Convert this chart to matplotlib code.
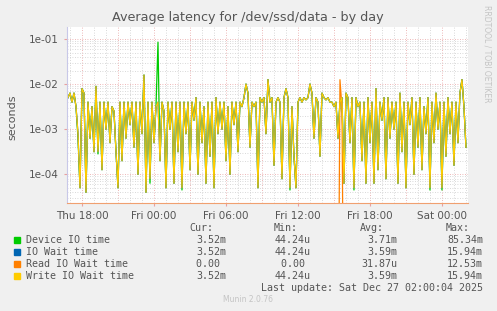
import numpy as np
import matplotlib
matplotlib.use("Agg")
import matplotlib.pyplot as plt
from matplotlib.patches import Rectangle
from matplotlib.ticker import FixedLocator, FuncFormatter

# samples every 10 minutes, hours counted from Thu 00:00
t_start = 16.833
step_h = 1 / 6

# write IO wait time, log10(seconds)
write_log10 = [
    -2.3, -2.2, -2.4, -2.2, -2.5, -3.1, -4.3, -2.1, -2.2, -4.4,
    -2.4, -3.2, -2.5, -3.5, -2.05, -3.5, -2.4, -3.9, -2.4, -3.0,
    -2.4, -3.3, -2.5, -2.6, -3.5, -4.3, -2.4, -3.7, -2.4, -3.2,
    -2.4, -2.9, -2.4, -3.4, -2.4, -4.0, -2.4, -3.1, -1.8, -4.4,
    -2.4, -4.1, -2.4, -3.3, -2.5, -2.4, -3.7, -2.4, -2.6, -4.3,
    -2.4, -3.0, -2.4, -4.2, -2.4, -3.5, -2.4, -4.3, -2.4, -3.1,
    -2.4, -3.9, -2.4, -2.8, -2.3, -4.0, -2.4, -3.3, -2.5, -4.2,
    -2.4, -3.6, -2.4, -4.3, -2.3, -3.1, -2.4, -3.0, -2.4, -3.7,
    -2.5, -4.0, -2.4, -2.9, -2.4, -3.5, -2.4, -2.5, -2.3, -2.0,
    -2.2, -3.4, -2.4, -2.5, -2.4, -4.3, -2.3, -2.4, -2.3, -3.1,
    -1.9, -2.4, -2.3, -3.8, -2.4, -2.3, -2.4, -4.1, -2.3, -2.1,
    -2.3, -4.3, -2.5, -3.6, -4.3, -2.4, -2.3, -2.4, -2.3, -2.35,
    -2.3, -2.0, -2.2, -3.2, -2.3, -2.4, -3.6, -2.2, -2.3, -2.35,
    -2.3, -2.4, -2.4, -2.5, -2.4, -3.2, -2.4, -2.3, -4.2, -2.2,
    -2.3, -3.3, -2.3, -4.3, -2.3, -2.5, -2.4, -3.7, -2.4, -4.2,
    -2.3, -3.3, -2.4, -4.2, -2.1, -3.9, -2.4, -2.8, -2.3, -4.1,
    -2.3, -3.2, -2.4, -3.0, -2.4, -4.2, -2.2, -3.5, -2.4, -4.3,
    -2.4, -2.9, -2.3, -4.0, -2.4, -3.4, -2.3, -3.9, -2.5, -3.1,
    -2.3, -4.3, -2.4, -3.3, -2.2, -3.0, -2.4, -4.3, -2.4, -3.6,
    -2.3, -3.1, -2.4, -3.8, -2.4, -3.3, -2.2, -1.9, -2.5, -3.4,
]
# IO wait is the same as write wait over the whole period
io_wait_log10 = list(write_log10)
# device IO time differs from write wait only at these samples
device_diff = {5: -3.2, 15: -3.55, 45: -1.07, 41: -4.2, 57: -4.35,
               111: -4.35, 143: -4.35, 181: -4.35, 187: -4.35}
# read IO wait (seconds), zero except these samples
read_nonzero = {136: 1.25e-2, 137: 3e-3}

ytick_vals = [1e-4, 1e-3, 1e-2, 1e-1]
ytick_labels = ["1e-04", "1e-03", "1e-02", "1e-01"]
xtick_hours = [18, 24, 30, 36, 42, 48]
xtick_labels = ["Thu 18:00", "Fri 00:00", "Fri 06:00", "Fri 12:00", "Fri 18:00", "Sat 00:00"]

legend_names = ["Device IO time", "IO Wait time", "Read IO Wait time", "Write IO Wait time"]
legend_colors = ["#00cc00", "#0066b3", "#ff8000", "#ffcc00"]
cur_vals = ["3.52m", "3.52m", "0.00 ", "3.52m"]
min_vals = ["44.24u", "44.24u", "0.00 ", "44.24u"]
avg_vals = ["3.71m", "3.59m", "31.87u", "3.59m"]
max_vals = ["85.34m", "15.94m", "12.53m", "15.94m"]

n = len(write_log10)
hours = t_start + step_h * np.arange(n)
write = 10 ** np.array(write_log10)
io_wait = 10 ** np.array(io_wait_log10)
device_log = np.array(write_log10)
for i, v in device_diff.items():
    device_log[i] = v
device = 10 ** device_log
read = np.zeros(n)
for i, v in read_nonzero.items():
    read[i] = v
read_plot = np.where(read > 0, read, 1e-9)

W, H = 497, 311
fig = plt.figure(figsize=(W / 100, H / 100), dpi=100, facecolor="#f0f0f0")
ax = fig.add_axes([67 / W, 1 - 203 / H, 401 / W, 176 / H])
ax.set_facecolor("white")

ax.plot(hours, device, color=legend_colors[0], lw=0.9)
ax.plot(hours, io_wait, color=legend_colors[1], lw=0.9)
ax.plot(hours, read_plot, color=legend_colors[2], lw=0.9)
ax.plot(hours, write, color=legend_colors[3], lw=0.9)

ax.set_yscale("log")
ax.set_ylim(2.3e-5, 0.185)
ax.set_xlim(16.75, 50.17)

# grid: minor grey, major red
for h in np.arange(17, 51, 1):
    if h % 3 == 0:
        ax.axvline(h, color="#e8a0a0", lw=0.6, ls=(0, (1, 2)), zorder=0)
    else:
        ax.axvline(h, color="#cccccc", lw=0.6, ls=(0, (1, 2)), zorder=0)
for dec in [-5, -4, -3, -2, -1]:
    for m in range(2, 10):
        v = m * 10.0 ** dec
        if 2.3e-5 < v < 0.185:
            ax.axhline(v, color="#cccccc", lw=0.6, ls=(0, (1, 2)), zorder=0)
for v in ytick_vals:
    ax.axhline(v, color="#e8a0a0", lw=0.6, ls=(0, (1, 2)), zorder=0)

ax.yaxis.set_major_locator(FixedLocator(ytick_vals))
ax.yaxis.set_major_formatter(FuncFormatter(lambda v, p: ytick_labels[ytick_vals.index(v)] if v in ytick_vals else ""))
ax.yaxis.set_minor_locator(FixedLocator([]))
ax.xaxis.set_major_locator(FixedLocator(xtick_hours))
ax.set_xticklabels(xtick_labels)
ax.tick_params(axis="both", labelsize=7.5, labelcolor="#555555", length=2, color="#e8a0a0", pad=4)

for s in ["top", "right"]:
    ax.spines[s].set_visible(False)
ax.spines["left"].set_color("#c8c8e8")
ax.spines["bottom"].set_color("#f0a070")
ax.spines["left"].set_linewidth(0.8)
ax.spines["bottom"].set_linewidth(0.8)

fig.text(248 / W, 1 - 18 / H, "Average latency for /dev/ssd/data - by day",
         ha="center", va="center", fontsize=9.2, color="#555555")
fig.text(12 / W, 1 - 117 / H, "seconds", rotation=90, ha="center", va="center",
         fontsize=8, color="#555555")
fig.text(487 / W, 1 - 5 / H, "RRDTOOL / TOBI OETIKER", rotation=270, ha="center", va="top",
         fontsize=5.5, color="#c4c4c4")

mono = dict(family="DejaVu Sans Mono", fontsize=7.2, color="#555555", va="center")
y_head = 228
for x_r, lab in zip([213, 298, 384, 470], ["Cur:", "Min:", "Avg:", "Max:"]):
    fig.text(x_r / W, 1 - y_head / H, lab, ha="right", **mono)
for k in range(4):
    y = 240 + 12 * k
    fig.patches.append(Rectangle((14 / W, 1 - (y + 3) / H), 6 / W, 6 / H,
                                 transform=fig.transFigure, color=legend_colors[k]))
    fig.text(26 / W, 1 - y / H, legend_names[k], ha="left", **mono)
    fig.text(226 / W, 1 - y / H, cur_vals[k], ha="right", **mono)
    fig.text(311 / W, 1 - y / H, min_vals[k], ha="right", **mono)
    fig.text(397 / W, 1 - y / H, avg_vals[k], ha="right", **mono)
    fig.text(483 / W, 1 - y / H, max_vals[k], ha="right", **mono)
fig.text(483 / W, 1 - 288 / H, "Last update: Sat Dec 27 02:00:04 2025", ha="right", **mono)
fig.text(248 / W, 1 - 299 / H, "Munin 2.0.76", ha="center", va="center",
         fontsize=5.5, color="#c4c4c4")

fig.savefig("out.png", dpi=100, facecolor=fig.get_facecolor())
